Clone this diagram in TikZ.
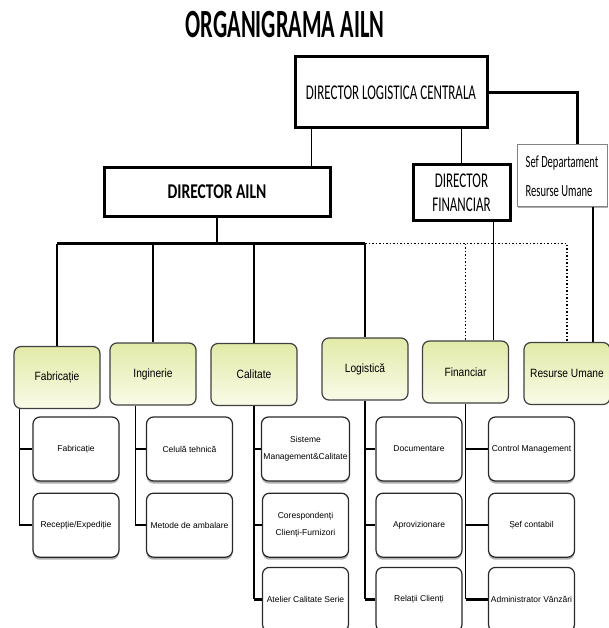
\documentclass[tikz,border=0pt]{standalone}
\usepackage{fontspec}
\setmainfont{Liberation Sans}
\newfontfamily\titlefont[FakeStretch=0.56]{Carlito}
\newfontfamily\hdfont[FakeStretch=0.62]{Carlito}
\newfontfamily\dafont[FakeStretch=0.74]{Carlito}
\newfontfamily\deptfont[FakeStretch=0.85]{Liberation Sans}
\usetikzlibrary{positioning,shadows}

\definecolor{deptTop}{RGB}{226,234,168}
\definecolor{deptBot}{RGB}{250,251,232}
\definecolor{deptLine}{RGB}{64,64,64}
\definecolor{unitLine}{RGB}{40,40,40}
\definecolor{unitShadow}{RGB}{175,175,175}
\definecolor{sefLine}{RGB}{130,130,130}

\begin{document}
\begin{tikzpicture}[x=1pt,y=-1pt,
  every node/.style={align=center,inner sep=2pt},
  dir/.style={draw,line width=3pt,font=\hdfont\fontsize{21}{24}\selectfont},
  sefbox/.style={draw=sefLine,line width=1pt,fill=white,align=left,
                 minimum width=90pt,minimum height=62pt,
                 font=\hdfont\fontsize{17}{29}\selectfont,
                 drop shadow={shadow xshift=1pt,shadow yshift=-1.5pt,fill=unitShadow,opacity=1}},
  dept/.style={draw=deptLine,line width=1.2pt,rounded corners=7pt,
               top color=deptTop,bottom color=deptBot,minimum width=86pt,
               minimum height=62pt,font=\deptfont\fontsize{12}{14}\selectfont},
  unit/.style={draw=unitLine,line width=1.2pt,rounded corners=7pt,fill=white,
               minimum width=86pt,minimum height=64pt,
               font=\fontsize{8.5}{17}\selectfont,
               drop shadow={shadow xshift=0pt,shadow yshift=-2.5pt,fill=unitShadow,opacity=1}},
  heavy/.style={line width=3pt},
  link/.style={line width=1.5pt},
  dotlink/.style={line width=1.5pt,dotted},
  branch/.style={line width=2.5pt}
]
\useasboundingbox (0,0) rectangle (609,628);

% Title.
\node[font=\titlefont\bfseries\fontsize{40}{44}\selectfont] (title) at (285,25) {ORGANIGRAMA AILN};

% Directors.
\node[dir,minimum width=192pt,minimum height=71pt] (dlc) at (391,92.5) {DIRECTOR LOGISTICA CENTRALA};
\node[dir,minimum width=226pt,minimum height=48pt,font=\dafont\bfseries\fontsize{21}{24}\selectfont]
     (da) at (217,192) {DIRECTOR AILN};
\node[dir,minimum width=97pt,minimum height=55pt] (df) at (461.5,192.5) {DIRECTOR\\FINANCIAR};
\node[sefbox] (sef) at (562,176) {Sef Departament\\Resurse Umane};

% Departments.
\node[dept] (fab) at (57,377.5)  {Fabricație};
\node[dept] (ing) at (153,374)   {Inginerie};
\node[dept] (cal) at (254,374.5) {Calitate};
\node[dept] (log) at (365,369)   {Logistică};
\node[dept] (fin) at (465.5,372) {Financiar};
\node[dept] (ru)  at (567,373.5) {Resurse Umane};

% Units under each department.
\node[unit] (f1) at (76,449) {Fabricație};
\node[unit,below=11pt of f1] (f2) {Recepție/Expediție};

\node[unit] (i1) at (189.5,449) {Celulă tehnică};
\node[unit,below=11pt of i1] (i2) {Metode de ambalare};

\node[unit] (c1) at (305.5,449) {Sisteme\\Management\&Calitate};
\node[unit,below=11pt of c1] (c2) {Corespondenți\\Clienți-Furnizori};
\node[unit,below=9pt of c2] (c3) {Atelier Calitate Serie};

\node[unit] (l1) at (419,449) {Documentare};
\node[unit,below=11pt of l1] (l2) {Aprovizionare};
\node[unit,below=9pt of l2] (l3) {Relații Clienți};

\node[unit] (n1) at (531.5,449) {Control Management};
\node[unit,below=11pt of n1] (n2) {Șef contabil};
\node[unit,below=9pt of n2] (n3) {Administrator Vânzări};

% Top level links.
\coordinate (dlcL) at ([xshift=18pt]dlc.south west);
\draw[heavy] (dlc.east) -| ([xshift=15pt]sef.north);
\draw[link] (dlcL) -- (dlcL |- da.north);
\draw[link] (df.north) -- (df.north |- dlc.south);

% Bus from DIRECTOR AILN.
\coordinate (bus) at ([yshift=-26pt]da.south);
\draw[link] (da.south) -- (bus);
\draw[heavy] (fab.north |- bus) -- (log.north |- bus);
\foreach \d in {fab,ing,cal,log}
  \draw[link] (\d.north |- bus) -- (\d.north);
\draw[dotlink] (log.north |- bus) -| (ru.north);
\draw[dotlink] (fin.north |- bus) -- (fin.north);

% Solid lines to Financiar and Resurse Umane.
\coordinate (finL) at ([xshift=28pt]fin.north);
\coordinate (ruL) at ([xshift=26pt]ru.north);
\draw[link] (finL |- df.south) -- (finL);
\draw[link] (ruL |- sef.south) -- (ruL);

% Spines and branches.
\coordinate (fabS) at ([xshift=6pt]fab.south west);
\coordinate (ingS) at ([xshift=26pt]ing.south west);
\draw[link] (fabS) -- (fabS |- f2.west);
\draw[branch] (fabS |- f1.west) -- (f1.west);
\draw[branch] (fabS |- f2.west) -- (f2.west);
\draw[link] (ingS) -- (ingS |- i2.west);
\draw[branch] (ingS |- i1.west) -- (i1.west);
\draw[branch] (ingS |- i2.west) -- (i2.west);
\draw[link] (cal.south) -- (cal.south |- c3.west);
\draw[branch] (cal.south |- c1.west) -- (c1.west);
\draw[branch] (cal.south |- c2.west) -- (c2.west);
\draw[branch] (cal.south |- c3.west) -- (c3.west);
\draw[link] (log.south) -- (log.south |- l3.west);
\draw[branch] (log.south |- l1.west) -- (l1.west);
\draw[branch] (log.south |- l2.west) -- (l2.west);
\draw[branch] (log.south |- l3.west) -- (l3.west);
\draw[link] (fin.south) -- (fin.south |- n3.west);
\draw[branch] (fin.south |- n1.west) -- (n1.west);
\draw[branch] (fin.south |- n2.west) -- (n2.west);
\draw[branch] (fin.south |- n3.west) -- (n3.west);
\end{tikzpicture}
\end{document}
